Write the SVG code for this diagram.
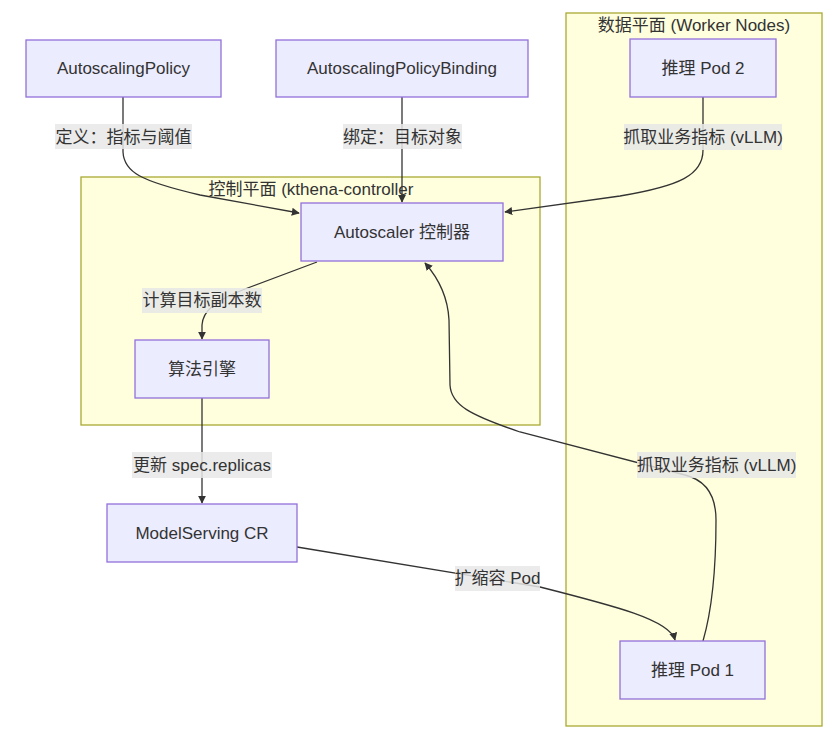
<svg xmlns="http://www.w3.org/2000/svg" width="840" height="737" viewBox="0 0 840 737">
<style>
text{font-family:"Liberation Sans","Noto Sans CJK SC",sans-serif;font-size:17px;fill:#333;text-anchor:middle;dominant-baseline:central}
.node rect{fill:#ECECFF;stroke:#9370DB;stroke-width:1.3}
.cluster rect{fill:#ffffde;stroke:#aaaa33;stroke-width:1.3}
.edge{fill:none;stroke:#333;stroke-width:1.3}
.lbl{fill:#e8e8e8;opacity:0.85}
</style>
<defs>
<marker id="arr" viewBox="0 0 10 10" refX="9" refY="5" markerWidth="8" markerHeight="8" markerUnits="userSpaceOnUse" orient="auto">
<path d="M0,0 L10,5 L0,10 z" fill="#333"/>
</marker>
</defs>
<rect width="840" height="737" fill="#fff"/>
<g id="cluster-control" class="cluster">
<rect x="81" y="177" width="459" height="248"/>
<text x="311" y="189">控制平面 (kthena-controller</text>
</g>
<g id="cluster-data" class="cluster">
<rect x="566" y="13" width="256" height="713"/>
<text x="694" y="25">数据平面 (Worker Nodes)</text>
</g>
<g id="connectors">
<path class="edge" d="M123,97 L123,152 C124,172 140,181 200,195 L299,213" marker-end="url(#arr)"/>
<path class="edge" d="M402,97 L402,202" marker-end="url(#arr)"/>
<path class="edge" d="M703,97 L703,150 C703,175 680,186 620,196 L505,212" marker-end="url(#arr)"/>
<path class="edge" d="M317,262 L245,289 C214,301 203,311 202,325 L202,339" marker-end="url(#arr)"/>
<path class="edge" d="M202,398 L202,503" marker-end="url(#arr)"/>
<path class="edge" d="M297,547 L540,587 C615,606 670,620 675,640" marker-end="url(#arr)"/>
<path class="edge" d="M703,641 C712,610 716,570 716,520 C716,495 705,480 685,475 L520,432 C470,415 451,405 450,385 L449,320 C448,300 440,280 425,263" marker-end="url(#arr)"/>
<rect class="lbl" x="55" y="124" width="137" height="25"/>
<text x="123.5" y="137">定义：指标与阈值</text>
<rect class="lbl" x="343" y="124" width="119" height="25"/>
<text x="402.5" y="137">绑定：目标对象</text>
<rect class="lbl" x="624" y="124" width="158" height="26"/>
<text x="703" y="137">抓取业务指标 (vLLM)</text>
<rect class="lbl" x="142" y="288" width="120" height="25"/>
<text x="202" y="300.5">计算目标副本数</text>
<rect class="lbl" x="132" y="452" width="140" height="26"/>
<text x="202" y="465">更新 spec.replicas</text>
<rect class="lbl" x="455" y="566" width="85" height="25"/>
<text x="497.5" y="578.5">扩缩容 Pod</text>
<rect class="lbl" x="637" y="452" width="159" height="26"/>
<text x="716.5" y="465">抓取业务指标 (vLLM)</text>
</g>
<g id="node-policy" class="node">
<rect x="26" y="40" width="195" height="57"/>
<text x="123.5" y="68.5">AutoscalingPolicy</text>
</g>
<g id="node-binding" class="node">
<rect x="276" y="40" width="252" height="57"/>
<text x="402" y="68.5">AutoscalingPolicyBinding</text>
</g>
<g id="node-pod2" class="node">
<rect x="630" y="39" width="146" height="58"/>
<text x="703" y="68">推理 Pod 2</text>
</g>
<g id="node-autoscaler" class="node">
<rect x="301" y="203" width="202" height="58"/>
<text x="402" y="232">Autoscaler 控制器</text>
</g>
<g id="node-engine" class="node">
<rect x="135" y="340" width="134" height="58"/>
<text x="202" y="369">算法引擎</text>
</g>
<g id="node-modelserving" class="node">
<rect x="107" y="504" width="190" height="58"/>
<text x="202" y="533">ModelServing CR</text>
</g>
<g id="node-pod1" class="node">
<rect x="620" y="641" width="145" height="58"/>
<text x="692.5" y="670">推理 Pod 1</text>
</g>
</svg>
